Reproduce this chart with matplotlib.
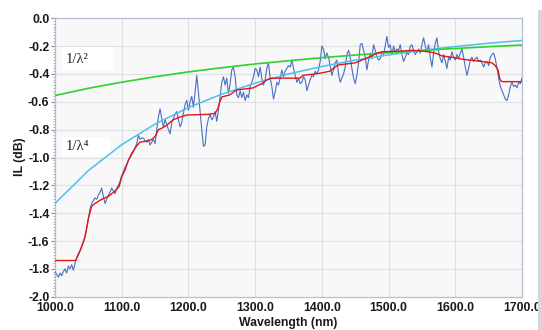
import numpy as np
import matplotlib
matplotlib.use("Agg")
import matplotlib.pyplot as plt
from matplotlib.ticker import MultipleLocator, FormatStrFormatter
from matplotlib.patches import Rectangle

plt.rcParams['font.family'] = ['Liberation Sans', 'DejaVu Sans']
plt.rcParams['axes.unicode_minus'] = False

# ---- measured trace (blue), sampled every 2.5 nm from 1000 to 1700 nm ----
wl_start, wl_stop, wl_step = 1000.0, 1700.0, 2.5
il_1000 = [-1.82, -1.84, -1.86, -1.83, -1.85, -1.82, -1.80, -1.83, -1.78, -1.80,
           -1.77, -1.81, -1.76, -1.72, -1.69, -1.67, -1.64, -1.61, -1.57, -1.51,
           -1.44, -1.37, -1.33, -1.31, -1.29, -1.30, -1.27, -1.25, -1.22, -1.28,
           -1.33, -1.30, -1.27, -1.25, -1.22, -1.24, -1.26, -1.22, -1.20, -1.17]
il_1100 = [-1.13, -1.10, -1.07, -1.05, -1.02, -1.00, -0.98, -0.96, -0.93, -0.90,
           -0.84, -0.87, -0.86, -0.86, -0.88, -0.89, -0.87, -0.91, -0.89, -0.87,
           -0.90, -0.80, -0.71, -0.65, -0.72, -0.78, -0.73, -0.76, -0.80, -0.83,
           -0.75, -0.72, -0.69, -0.67, -0.73, -0.78, -0.75, -0.68, -0.62, -0.59]
il_1200 = [-0.66, -0.60, -0.56, -0.64, -0.53, -0.41, -0.53, -0.67, -0.80, -0.92,
           -0.91, -0.78, -0.72, -0.69, -0.73, -0.71, -0.67, -0.74, -0.66, -0.56,
           -0.46, -0.42, -0.48, -0.43, -0.54, -0.47, -0.37, -0.35, -0.42, -0.55,
           -0.57, -0.52, -0.57, -0.53, -0.59, -0.55, -0.57, -0.49, -0.46, -0.42]
il_1300 = [-0.36, -0.37, -0.42, -0.35, -0.43, -0.48, -0.44, -0.36, -0.32, -0.43,
           -0.49, -0.58, -0.53, -0.46, -0.48, -0.43, -0.37, -0.42, -0.38, -0.36,
           -0.34, -0.35, -0.30, -0.36, -0.41, -0.46, -0.43, -0.47, -0.46, -0.42,
           -0.44, -0.52, -0.48, -0.44, -0.41, -0.42, -0.38, -0.40, -0.37, -0.31]
il_1400 = [-0.20, -0.22, -0.29, -0.25, -0.28, -0.34, -0.41, -0.37, -0.32, -0.30,
           -0.40, -0.46, -0.43, -0.40, -0.35, -0.26, -0.23, -0.28, -0.36, -0.43,
           -0.47, -0.41, -0.32, -0.19, -0.18, -0.23, -0.28, -0.37, -0.30, -0.25,
           -0.29, -0.19, -0.23, -0.28, -0.30, -0.29, -0.24, -0.26, -0.20, -0.13]
il_1500 = [-0.21, -0.19, -0.26, -0.20, -0.24, -0.22, -0.23, -0.19, -0.26, -0.31,
           -0.28, -0.25, -0.26, -0.20, -0.19, -0.23, -0.26, -0.24, -0.22, -0.25,
           -0.19, -0.14, -0.20, -0.24, -0.19, -0.28, -0.35, -0.25, -0.18, -0.14,
           -0.24, -0.29, -0.32, -0.26, -0.31, -0.36, -0.28, -0.30, -0.24, -0.28]
il_1600 = [-0.30, -0.26, -0.29, -0.25, -0.22, -0.28, -0.35, -0.41, -0.36, -0.30,
           -0.28, -0.31, -0.29, -0.28, -0.31, -0.30, -0.32, -0.35, -0.32, -0.31,
           -0.34, -0.28, -0.26, -0.25, -0.29, -0.36, -0.43, -0.49, -0.52, -0.55,
           -0.58, -0.59, -0.55, -0.49, -0.46, -0.49, -0.48, -0.50, -0.46, -0.47]
il_1700 = [-0.43]

# ---- smoothed trace (red) ----
red_wl = [1000, 1031, 1035, 1040, 1045, 1050, 1055, 1060, 1070, 1080, 1090, 1096,
          1100, 1105, 1110, 1115, 1122, 1127, 1140, 1145, 1150, 1155, 1160, 1167,
          1177, 1187, 1197, 1230, 1240, 1244, 1247, 1250, 1262, 1272, 1297, 1305,
          1310, 1318, 1325, 1367, 1372, 1397, 1412, 1420, 1425, 1450, 1460, 1467,
          1475, 1482, 1492, 1520, 1535, 1560, 1570, 1580, 1595, 1612, 1640, 1655,
          1660, 1664, 1667, 1670, 1700]
red_il = [-1.74, -1.74, -1.70, -1.64, -1.57, -1.44, -1.35, -1.33, -1.30, -1.28, -1.24, -1.21,
          -1.14, -1.09, -1.02, -0.97, -0.92, -0.89, -0.88, -0.87, -0.85, -0.80, -0.79, -0.77,
          -0.73, -0.71, -0.695, -0.69, -0.683, -0.65, -0.60, -0.565, -0.55, -0.515, -0.50, -0.48,
          -0.47, -0.44, -0.43, -0.43, -0.41, -0.395, -0.38, -0.35, -0.335, -0.32, -0.30, -0.287,
          -0.27, -0.25, -0.24, -0.235, -0.23, -0.24, -0.25, -0.27, -0.28, -0.295, -0.31, -0.32,
          -0.34, -0.37, -0.44, -0.455, -0.455]

# ---- model curves, values read every 50 nm ----
model_wl = [1000, 1050, 1100, 1150, 1200, 1250, 1300, 1350, 1400, 1450, 1500, 1550, 1600, 1650, 1700]
lam2_il = [-0.555, -0.503, -0.459, -0.420, -0.385, -0.355, -0.328, -0.305, -0.283,
           -0.264, -0.247, -0.231, -0.217, -0.204, -0.192]
lam4_il = [-1.330, -1.094, -0.908, -0.760, -0.641, -0.545, -0.466, -0.400, -0.346,
           -0.301, -0.263, -0.230, -0.203, -0.179, -0.159]

x_ticks = [1000, 1100, 1200, 1300, 1400, 1500, 1600, 1700]
y_ticks = [0.0, -0.2, -0.4, -0.6, -0.8, -1.0, -1.2, -1.4, -1.6, -1.8, -2.0]

blue_il = il_1000 + il_1100 + il_1200 + il_1300 + il_1400 + il_1500 + il_1600 + il_1700
blue_wl = np.arange(wl_start, wl_stop + wl_step / 2, wl_step)[:len(blue_il)]

W, H = 542, 330
fig = plt.figure(figsize=(W / 100, H / 100), dpi=100)
fig.patch.set_facecolor('white')
ax = fig.add_axes([55 / W, 1 - 296.7 / H, (522 - 55) / W, (296.7 - 18.3) / H])
ax.set_facecolor('#f8f8f9')

ax.plot(blue_wl, blue_il, color='#4a6ec6', lw=0.8, zorder=3)
ax.plot(model_wl, lam4_il, color='#4cc0ec', lw=1.1, zorder=4)
ax.plot(model_wl, lam2_il, color='#2fd12f', lw=1.2, zorder=4)
ax.plot(red_wl, red_il, color='#e21515', lw=1.0, zorder=5)

ax.set_xlim(1000, 1700)
ax.set_ylim(-2.0, 0.0)
ax.set_xticks(x_ticks)
ax.set_yticks(y_ticks)
ax.xaxis.set_major_formatter(FormatStrFormatter('%.1f'))
ax.yaxis.set_major_formatter(FormatStrFormatter('%.1f'))
ax.yaxis.set_minor_locator(MultipleLocator(0.02))
ax.grid(True, which='major', color='#dde1e6', lw=0.8, zorder=0)
ax.set_axisbelow(True)
for s in ax.spines.values():
    s.set_color('#b4c0d2')
    s.set_linewidth(0.9)
ax.tick_params(axis='y', which='major', length=3, width=0.8, color='#8090a8', pad=1,
               labelsize=8.8, labelcolor='#1a1a1a')
ax.tick_params(axis='y', which='minor', length=1.8, width=0.6, color='#98a4b8')
ax.tick_params(axis='x', which='major', length=0, pad=4, labelsize=8.8, labelcolor='#1a1a1a')
for lab in ax.get_xticklabels() + ax.get_yticklabels():
    lab.set_fontweight('bold')

fig.text(288.5 / W, 1 - 317 / H, 'Wavelength (nm)', ha='center', va='top',
         fontsize=8.8, fontweight='bold', color='#1a1a1a')
fig.text(20 / W, 1 - 157 / H, 'IL (dB)', ha='center', va='center', rotation=90,
         fontsize=8.8, fontweight='bold', color='#1a1a1a')

# white label boxes (axes fraction), drawn beneath the curves
ax.add_patch(Rectangle((0.015, 0.814), 0.109, 0.083, transform=ax.transAxes,
                       facecolor='white', edgecolor='none', zorder=2.5))
ax.add_patch(Rectangle((0.015, 0.505), 0.103, 0.068, transform=ax.transAxes,
                       facecolor='white', edgecolor='none', zorder=2.5))
ax.text(0.024, 0.853, '1/λ²', transform=ax.transAxes, ha='left', va='center', fontsize=10.5,
        family=['Liberation Serif', 'DejaVu Serif'], color='#222222', zorder=7)
ax.text(0.024, 0.538, '1/λ⁴', transform=ax.transAxes, ha='left', va='center', fontsize=10.5,
        family=['Liberation Serif', 'DejaVu Serif'], color='#222222', zorder=7)

# window edge at right
fig.patches.append(Rectangle((538 / W, 0), 4 / W, 1 - 10 / H, transform=fig.transFigure,
                             facecolor='#d6d6d6', edgecolor='none'))

fig.savefig('out.png', dpi=100)
